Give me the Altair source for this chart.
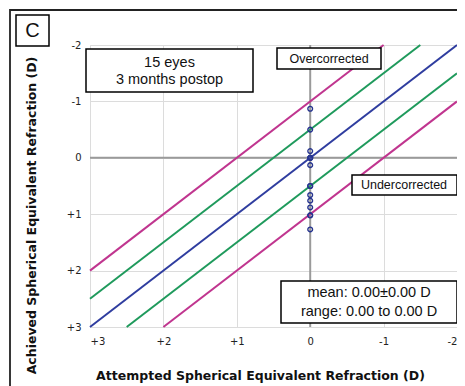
import altair as alt
import pandas as pd

# ---- data ----
achieved = [-0.87, -0.5, -0.12, 0.0, 0.0, 0.0, 0.13, 0.5, 0.5, 0.66, 0.76, 0.88, 1.02, 1.02, 1.27]
attempted = [0.0] * len(achieved)

line_names = ["mag_up", "grn_up", "blue", "grn_lo", "mag_lo"]
line_x0 = [3, 3, 3, 2.5, 2]
line_y0 = [2, 2.5, 3, 3, 3]
line_x1 = [-1, -1.5, -2, -2, -2]
line_y1 = [-2, -2, -2, -1.5, -1]
line_colors = ["#c0358f", "#1f9a5c", "#2f3d9f", "#1f9a5c", "#c0358f"]

tick_values = [3, 2, 1, 0, -1, -2]

pts = pd.DataFrame({"attempted": attempted, "achieved": achieved})
rows = []
for n, a, b, c, d in zip(line_names, line_x0, line_y0, line_x1, line_y1):
    rows.append({"line": n, "x": a, "y": b, "o": 0})
    rows.append({"line": n, "x": c, "y": d, "o": 1})
lines = pd.DataFrame(rows)
zero_v = pd.DataFrame({"x": [0]})
zero_h = pd.DataFrame({"y": [0]})

label_expr = "datum.value > 0 ? '+' + datum.value : '' + datum.value"

xscale = alt.Scale(domain=[-2, 3], reverse=True, nice=False, zero=False)
yscale = alt.Scale(domain=[-2, 3], reverse=True, nice=False, zero=False)

xaxis = alt.Axis(values=tick_values, labelExpr=label_expr, grid=True, gridColor="#dcdcdc",
                 ticks=False, domain=False, labelFont="DejaVu Sans", labelFontSize=10,
                 labelColor="#222", labelPadding=9,
                 title="Attempted Spherical Equivalent Refraction (D)",
                 titleFont="DejaVu Sans", titleFontWeight="bold", titleFontSize=12.5,
                 titleColor="#111", titleX=170, titleY=52, titleBaseline="alphabetic",
                 titleAlign="center")
yaxis = alt.Axis(values=tick_values, labelExpr=label_expr, grid=True, gridColor="#dcdcdc",
                 ticks=False, domain=False, labelFont="DejaVu Sans", labelFontSize=10,
                 labelColor="#222", labelPadding=9,
                 title="Achieved Spherical Equivalent Refraction (D)",
                 titleFont="DejaVu Sans", titleFontWeight="bold", titleFontSize=12.5,
                 titleColor="#111", titleX=-55, titleY=170, titleAngle=-90,
                 titleBaseline="alphabetic", titleAlign="center")

vrule = alt.Chart(zero_v).mark_rule(color="#9a9a9a", strokeWidth=2).encode(
    x=alt.X("x:Q", scale=xscale, axis=xaxis))
hrule = alt.Chart(zero_h).mark_rule(color="#9a9a9a", strokeWidth=2).encode(
    y=alt.Y("y:Q", scale=yscale, axis=yaxis))

diag = alt.Chart(lines).mark_line(strokeWidth=2).encode(
    x=alt.X("x:Q", scale=xscale),
    y=alt.Y("y:Q", scale=yscale),
    order="o:Q",
    detail="line:N",
    color=alt.Color("line:N", scale=alt.Scale(domain=line_names, range=line_colors), legend=None),
)

points = alt.Chart(pts).mark_point(shape="circle", filled=False, size=22, strokeWidth=1.4,
                                   color="#26348f", opacity=1).encode(
    x=alt.X("attempted:Q", scale=xscale),
    y=alt.Y("achieved:Q", scale=yscale),
)


def box(x1, x2, y1, y2, sw=1.5):
    return alt.Chart(pd.DataFrame({"b": [1]})).mark_rect(
        fill="white", stroke="black", strokeWidth=sw).encode(
        x=alt.value(x1), x2=alt.value(x2), y=alt.value(y1), y2=alt.value(y2))


def label(txt, x, y, size, font="Liberation Sans"):
    return alt.Chart(pd.DataFrame({"t": [txt]})).mark_text(
        font=font, fontSize=size, color="#111", align="center", baseline="middle").encode(
        x=alt.value(x), y=alt.value(y), text="t:N")


frame = alt.Chart(pd.DataFrame({"b": [1]})).mark_rect(
    fillOpacity=0, stroke="#222", strokeWidth=1.8).encode(
    x=alt.value(-80), x2=alt.value(385), y=alt.value(-35), y2=alt.value(350))

layers = [
    vrule, hrule, diag, points,
    box(-4, 163, 4, 47), label("15 eyes", 79.5, 18, 14.5), label("3 months postop", 79.5, 35, 14.5),
    box(187, 291, 3, 24), label("Overcorrected", 239, 13.5, 12.5),
    box(262, 367, 130, 150), label("Undercorrected", 314, 140, 12.5),
    box(191, 367, 236, 278), label("mean: 0.00±0.00 D", 279, 248, 14.5),
    label("range: 0.00 to 0.00 D", 279, 266.5, 14.5),
    frame,
    box(-74, -41, -30, 1), label("C", -57.5, -14.5, 20),
]

chart = alt.layer(*layers).properties(
    width=367, height=282,
    padding={"left": 82, "top": 37, "right": 0, "bottom": 59},
    autosize=alt.AutoSizeParams(type="none"),
).configure_view(stroke="#8c8c8c", strokeWidth=2).configure(background="white")

chart.save("out.html", embed_options={"renderer": "svg", "actions": False})
